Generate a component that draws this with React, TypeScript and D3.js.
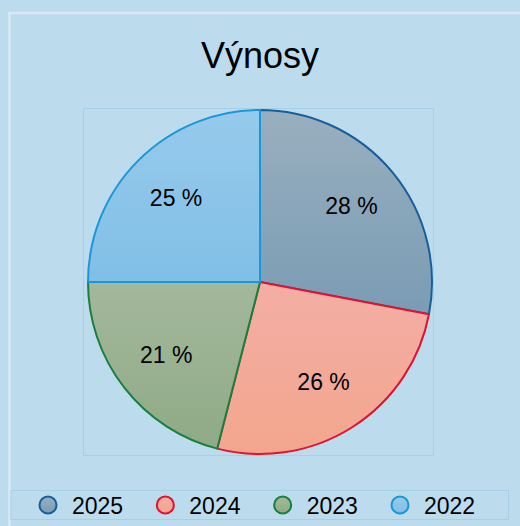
import React, {useEffect, useRef} from "react";
import * as d3 from "d3";

// chart data
const years = ["2025", "2024", "2023", "2022"];
const shares = [28, 26, 21, 25];
const fillTop = ["#99afbf", "#f3aea4", "#a4b89c", "#97caec"];
const fillBottom = ["#7a9cb4", "#f2a68e", "#8faa86", "#80bfe6"];
const strokes = ["#175f9b", "#e0122f", "#18803c", "#1a97d8"];

function App() {
  const ref = useRef<SVGSVGElement>(null);
  const width = 520;
  const height = 526;
  const cx = 260;
  const cy = 282;
  const radius = 172;
  const fontFamily = "'Liberation Sans', Arial, Helvetica, sans-serif";

  useEffect(() => {
    const svg = d3.select(ref.current);
    svg.selectAll("*").remove();

    svg.append("rect")
      .attr("width", width).attr("height", height)
      .attr("fill", "#bcdcee");

    // outer frame (left and top edges)
    svg.append("path")
      .attr("d", `M9.5,${height} L9.5,13 L${width},13`)
      .attr("fill", "none")
      .attr("stroke", "#d8e8f5")
      .attr("stroke-width", 2.5);

    svg.append("text")
      .attr("x", cx).attr("y", 68)
      .attr("text-anchor", "middle")
      .attr("font-family", fontFamily)
      .attr("font-size", 36)
      .attr("fill", "#000")
      .text("Výnosy");

    // plot area
    svg.append("rect")
      .attr("x", 83.5).attr("y", 108.5)
      .attr("width", 350).attr("height", 347)
      .attr("fill", "none")
      .attr("stroke", "#a6cfe8")
      .attr("stroke-width", 1);

    const defs = svg.append("defs");
    years.forEach((y, i) => {
      const g = defs.append("linearGradient")
        .attr("id", "grad" + y)
        .attr("x1", 0).attr("y1", 0).attr("x2", 0).attr("y2", 1);
      g.append("stop").attr("offset", "0%").attr("stop-color", fillTop[i]);
      g.append("stop").attr("offset", "100%").attr("stop-color", fillBottom[i]);
    });

    const pie = d3.pie<number>().sort(null).value(d => d);
    const arcs = pie(shares);
    const arc = d3.arc<d3.PieArcDatum<number>>().innerRadius(0).outerRadius(radius);
    const labelArc = d3.arc<d3.PieArcDatum<number>>()
      .innerRadius(radius * 0.69).outerRadius(radius * 0.69);

    const gPie = svg.append("g").attr("transform", `translate(${cx},${cy})`);
    gPie.selectAll("path")
      .data(arcs)
      .join("path")
      .attr("d", arc)
      .attr("fill", (d, i) => `url(#grad${years[i]})`)
      .attr("stroke", (d, i) => strokes[i])
      .attr("stroke-width", 2)
      .attr("stroke-linejoin", "round");

    gPie.selectAll("text")
      .data(arcs)
      .join("text")
      .attr("transform", d => `translate(${labelArc.centroid(d)})`)
      .attr("text-anchor", "middle")
      .attr("dy", "0.35em")
      .attr("font-family", fontFamily)
      .attr("font-size", 23)
      .attr("fill", "#000")
      .text(d => `${d.data} %`);

    // legend
    svg.append("rect")
      .attr("x", 11).attr("y", 490.5)
      .attr("width", 497.5).attr("height", 29)
      .attr("fill", "none")
      .attr("stroke", "#a6cfe8")
      .attr("stroke-width", 1);

    const legendX = d3.scalePoint<string>().domain(years).range([48, 400]);
    const item = svg.append("g").selectAll("g")
      .data(years)
      .join("g")
      .attr("transform", d => `translate(${legendX(d)},505)`);
    item.append("circle")
      .attr("r", 8.5)
      .attr("fill", (d, i) => `url(#grad${d})`)
      .attr("stroke", (d, i) => strokes[i])
      .attr("stroke-width", 2);
    item.append("text")
      .attr("x", 24).attr("y", 9)
      .attr("font-family", fontFamily)
      .attr("font-size", 23)
      .attr("fill", "#000")
      .text(d => d);
  }, []);

  return (
    <div style={{position: "fixed", left: 0, top: 0, width, height}}>
      <svg ref={ref} width={width} height={height} style={{display: "block"}}/>
    </div>
  );
}

export default App;
